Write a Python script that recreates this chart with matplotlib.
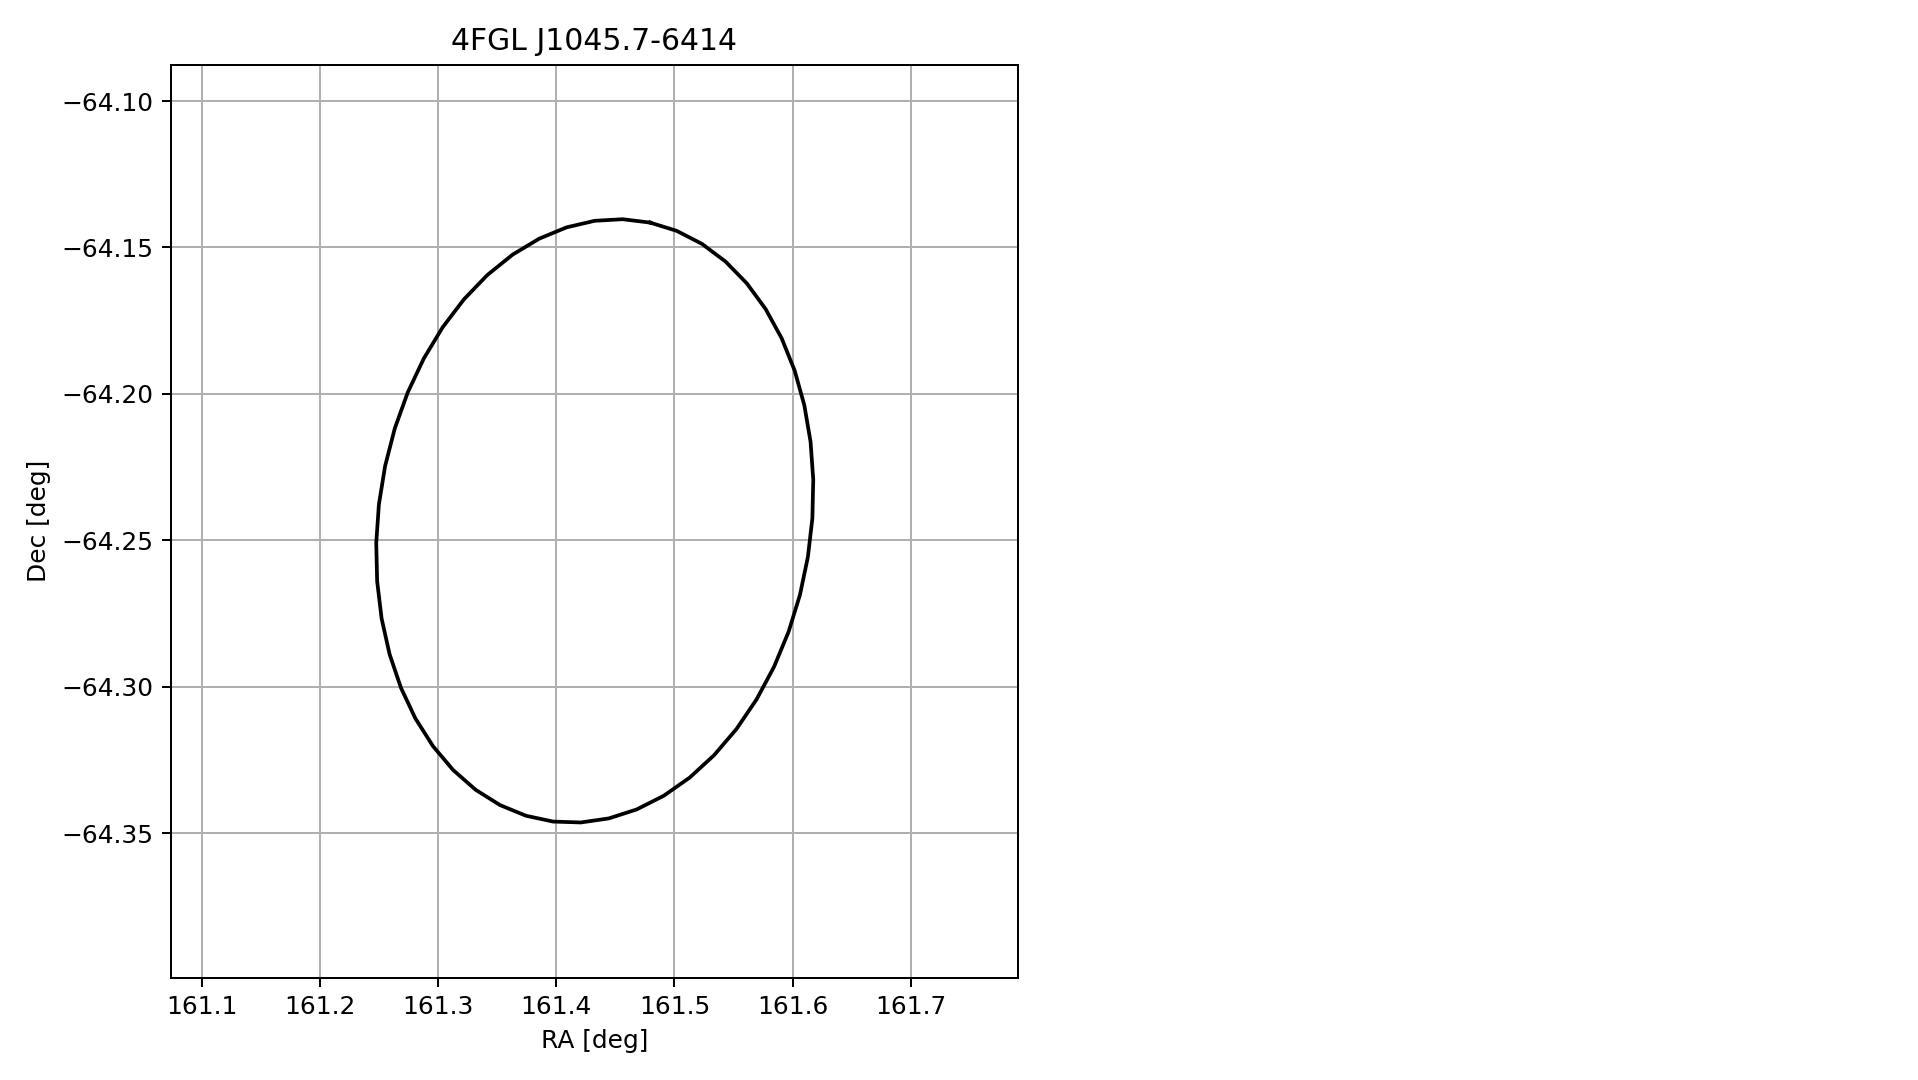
import numpy as np
import matplotlib
matplotlib.use('Agg')
import matplotlib.pyplot as plt

# source and its 95% error ellipse
source_name = '4FGL J1045.7-6414'
ra_center = 161.4326
dec_center = -64.2434
semi_major = 0.1039
semi_minor = 0.0793
pos_angle = 11.3
n_points = 50

# axis ranges
ra_lim = [161.0738, 161.7905]
dec_lim = [-64.3994, -64.0877]


def ellipse_outline(ra0, dec0, a, b, pa, n):
    # outline on the tangent plane, RA offsets stretched by 1/cos(dec)
    t = np.linspace(0, 2*np.pi, n)
    phi = np.radians(pa)
    dx = a*np.cos(t)*np.sin(phi) + b*np.sin(t)*np.cos(phi)
    dy = a*np.cos(t)*np.cos(phi) - b*np.sin(t)*np.sin(phi)
    ra = ra0 + dx/np.cos(np.radians(dec0))
    dec = dec0 + dy
    return ra, dec


dpi = 179
fig = plt.figure(figsize=(1919/dpi, 1080/dpi), dpi=dpi)
ax = fig.add_axes([0.08895, 0.0947, 0.4414, 0.8451])

ra, dec = ellipse_outline(ra_center, dec_center, semi_major, semi_minor, pos_angle, n_points)
ax.plot(ra, dec, color='k', linewidth=1.5)

ax.set_xlim(ra_lim)
ax.set_ylim(dec_lim)
ax.set_xticks([161.1, 161.2, 161.3, 161.4, 161.5, 161.6, 161.7])
ax.set_yticks([-64.35, -64.30, -64.25, -64.20, -64.15, -64.10])
ax.grid(True)
ax.set_xlabel('RA [deg]')
ax.set_ylabel('Dec [deg]')
ax.set_title(source_name)

fig.savefig('out.png', dpi=dpi)
